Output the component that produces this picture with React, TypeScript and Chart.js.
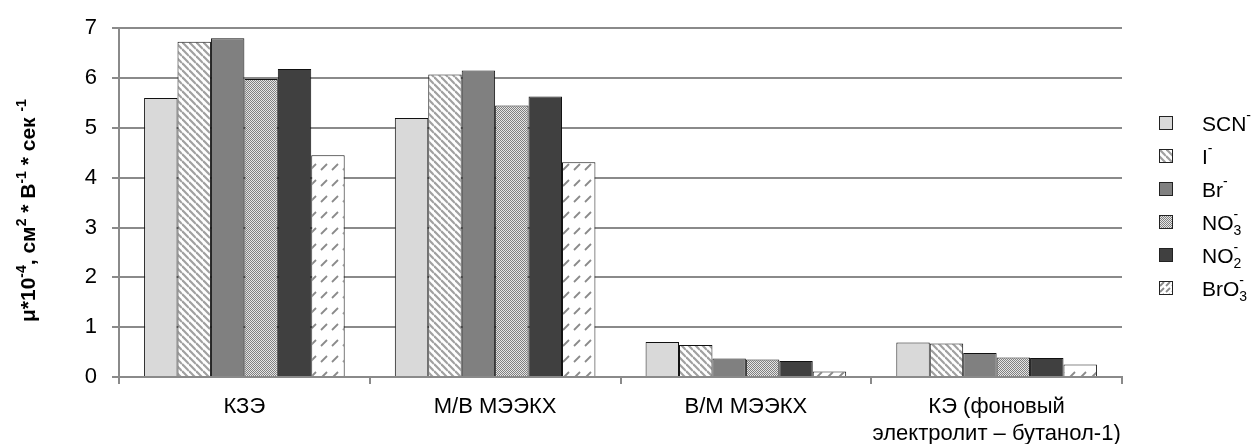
import React, { useEffect, useRef } from "react";
import { Chart, registerables } from "chart.js";

Chart.register(...registerables);

const categories: (string | string[])[] = [
  "КЗЭ",
  "М/В МЭЭКХ",
  "В/М МЭЭКХ",
  ["КЭ (фоновый", "электролит – бутанол-1)"],
];

const seriesBase = ["SCN", "I", "Br", "NO", "NO", "BrO"];
const seriesSub = ["", "", "", "3", "2", "3"];
const seriesSup = ["-", "-", "-", "-", "-", "-"];

const scnValues = [5.6, 5.2, 0.7, 0.69];
const iValues = [6.73, 6.07, 0.64, 0.67];
const brValues = [6.8, 6.15, 0.37, 0.48];
const no3Values = [5.98, 5.45, 0.35, 0.39];
const no2Values = [6.18, 5.63, 0.32, 0.38];
const bro3Values = [4.45, 4.31, 0.11, 0.25];

const yTicks = [0, 1, 2, 3, 4, 5, 6, 7];

const FONT = "'Liberation Sans', Arial, sans-serif";
const GRID = "#8a8a8a";

function tile(w: number, h: number, draw: (c: CanvasRenderingContext2D) => void) {
  const cv = document.createElement("canvas");
  cv.width = w;
  cv.height = h;
  const c = cv.getContext("2d")!;
  draw(c);
  return c.createPattern(cv, "repeat")!;
}

function dashTile(w: number, h: number, x0: number, y0: number, x1: number, y1: number) {
  return tile(w, h, (c) => {
    c.fillStyle = "#ffffff";
    c.fillRect(0, 0, w, h);
    c.strokeStyle = "#8a8a8a";
    c.lineWidth = 1.8;
    c.beginPath();
    c.moveTo(x0, y0);
    c.lineTo(x1, y1);
    c.stroke();
  });
}

function makeFills() {
  const s = 7;
  const stripes = tile(s, s, (c) => {
    c.fillStyle = "#ffffff";
    c.fillRect(0, 0, s, s);
    c.strokeStyle = "#a0a0a0";
    c.lineWidth = 2.2;
    for (let k = -1; k <= 1; k++) {
      c.beginPath();
      c.moveTo(0, k * s);
      c.lineTo(s, k * s + s);
      c.stroke();
    }
  });
  const checker = tile(2, 2, (c) => {
    c.fillStyle = "#e6e6e6";
    c.fillRect(0, 0, 2, 2);
    c.fillStyle = "#808080";
    c.fillRect(0, 0, 1, 1);
    c.fillRect(1, 1, 1, 1);
  });
  const dashes = dashTile(11, 16, 2, 10, 8, 4);
  return ["#d9d9d9", stripes, "#808080", checker, "#404040", dashes];
}

export default function App() {
  const ref = useRef<HTMLCanvasElement | null>(null);

  useEffect(() => {
    const canvas = ref.current!;
    const fills = makeFills();
    const legendFills = fills.slice();
    legendFills[5] = dashTile(6, 6, 1, 5, 5, 1);
    const values = [scnValues, iValues, brValues, no3Values, no2Values, bro3Values];

    const legendPlugin = {
      id: "customLegend",
      afterDraw(chart: any) {
        const ctx = chart.ctx as CanvasRenderingContext2D;
        ctx.save();
        const startY = 123;
        const step = 33;
        for (let i = 0; i < seriesBase.length; i++) {
          const y = startY + i * step;
          const bx = 1159;
          const bs = 14;
          ctx.save();
          ctx.translate(bx, y - bs / 2);
          ctx.fillStyle = legendFills[i] as any;
          ctx.fillRect(0, 0, bs, bs);
          ctx.strokeStyle = "#222";
          ctx.lineWidth = 1;
          ctx.strokeRect(0.5, 0.5, bs - 1, bs - 1);
          ctx.restore();
          ctx.fillStyle = "#000";
          ctx.textBaseline = "alphabetic";
          ctx.textAlign = "left";
          ctx.font = `21px ${FONT}`;
          let x = 1202;
          const base = y + 8;
          ctx.fillText(seriesBase[i], x, base);
          x += ctx.measureText(seriesBase[i]).width;
          ctx.font = `14px ${FONT}`;
          if (seriesSub[i]) {
            ctx.fillText(seriesSub[i], x, base + 5);
          }
          ctx.fillText(seriesSup[i], x, base - 11);
        }
        ctx.restore();
      },
    };

    const titlePlugin = {
      id: "yTitle",
      afterDraw(chart: any) {
        const ctx = chart.ctx as CanvasRenderingContext2D;
        const area = chart.chartArea;
        const parts: [string, boolean][] = [
          ["μ*10", false],
          ["-4", true],
          [", см", false],
          ["2", true],
          [" * В", false],
          ["-1", true],
          [" * сек ", false],
          ["-1", true],
        ];
        const mainFont = `bold 21px ${FONT}`;
        const supFont = `bold 14px ${FONT}`;
        ctx.save();
        let total = 0;
        for (const [t, s] of parts) {
          ctx.font = s ? supFont : mainFont;
          total += ctx.measureText(t).width;
        }
        const cy = (area.top + area.bottom) / 2 + 8;
        ctx.translate(35, cy);
        ctx.rotate(-Math.PI / 2);
        ctx.fillStyle = "#000";
        ctx.textBaseline = "alphabetic";
        ctx.textAlign = "left";
        let x = -total / 2;
        for (const [t, s] of parts) {
          ctx.font = s ? supFont : mainFont;
          ctx.fillText(t, x, s ? -9 : 0);
          x += ctx.measureText(t).width;
        }
        ctx.restore();
      },
    };

    const chart = new Chart(canvas, {
      type: "bar",
      data: {
        labels: categories as any,
        datasets: values.map((v, i) => ({
          label: seriesBase[i] + seriesSub[i],
          data: v,
          backgroundColor: fills[i] as any,
          borderColor: "#111",
          borderWidth: 1,
          categoryPercentage: 0.8,
          barPercentage: 1,
        })),
      },
      options: {
        animation: false,
        responsive: false,
        devicePixelRatio: 1,
        layout: { padding: { top: 9, right: 137, bottom: 0, left: 0 } },
        plugins: {
          legend: { display: false },
          tooltip: { enabled: false },
        },
        scales: {
          x: {
            grid: {
              display: true,
              drawOnChartArea: false,
              drawTicks: true,
              tickLength: 7,
              color: GRID,
              lineWidth: 2,
            },
            border: { color: GRID, width: 2 },
            ticks: {
              color: "#000",
              font: { family: FONT, size: 22, lineHeight: 1.2 },
              padding: 10,
              maxRotation: 0,
              minRotation: 0,
              autoSkip: false,
            },
            afterFit(scale: any) {
              scale.height = 67;
            },
          },
          y: {
            min: 0,
            max: 7,
            afterBuildTicks(scale: any) {
              scale.ticks = yTicks.map((v) => ({ value: v }));
            },
            grid: { color: GRID, lineWidth: 2, tickLength: 7 },
            border: { color: GRID, width: 2 },
            ticks: {
              color: "#000",
              font: { family: FONT, size: 22 },
              padding: 15,
            },
            afterFit(scale: any) {
              scale.width = 119;
            },
          },
        },
      },
      plugins: [legendPlugin, titlePlugin],
    });

    return () => chart.destroy();
  }, []);

  return (
    <div style={{ position: "absolute", left: 0, top: 0, width: 1259, height: 444, background: "#fff" }}>
      <canvas ref={ref} width={1259} height={444} />
    </div>
  );
}
